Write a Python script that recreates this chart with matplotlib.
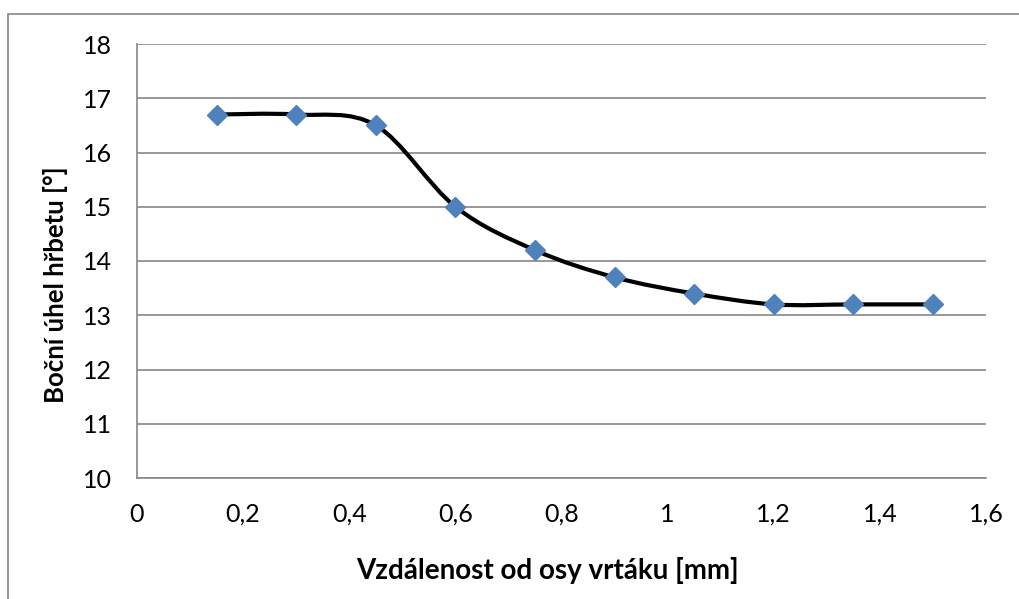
import numpy as np
import matplotlib

matplotlib.use("Agg")
import matplotlib.pyplot as plt
from matplotlib.path import Path
from matplotlib.patches import PathPatch, Rectangle

distance_mm = [0.15, 0.30, 0.45, 0.60, 0.75, 0.90, 1.05, 1.20, 1.35, 1.50]
side_angle = [16.7, 16.7, 16.5, 15.0, 14.2, 13.7, 13.4, 13.2, 13.2, 13.2]

x_ticks = [0, 0.2, 0.4, 0.6, 0.8, 1.0, 1.2, 1.4, 1.6]
y_ticks = [10, 11, 12, 13, 14, 15, 16, 17, 18]

plt.rcParams["font.family"] = ["Lato", "DejaVu Sans"]

W, H = 1020, 599


def smooth_path(xs, ys, tension=1 / 6):
    # cubic Bezier segments through every point (spreadsheet-style smoothed line)
    pts = np.column_stack([xs, ys]).astype(float)
    n = len(pts)
    verts = [pts[0]]
    codes = [Path.MOVETO]
    for i in range(n - 1):
        p0 = pts[max(i - 1, 0)]
        p1 = pts[i]
        p2 = pts[i + 1]
        p3 = pts[min(i + 2, n - 1)]
        c1 = p1 + (p2 - p0) * tension
        c2 = p2 - (p3 - p1) * tension
        verts += [c1, c2, p2]
        codes += [Path.CURVE4] * 3
    return Path(verts, codes)


fig = plt.figure(figsize=(W / 100, H / 100), dpi=100)
ax = fig.add_axes([137 / W, 1 - 478 / H, (986 - 137) / W, (478 - 44) / H])

# outer chart frame
fig.patches.append(
    Rectangle((8 / W, -0.05), 1.1, 1 - 14 / H + 0.05, transform=fig.transFigure,
              fill=False, edgecolor="#868686", linewidth=1.2)
)

ax.add_patch(PathPatch(smooth_path(distance_mm, side_angle), fill=False,
                       edgecolor="black", linewidth=3, capstyle="round", zorder=3))
ax.plot(distance_mm, side_angle, linestyle="none", marker="D", markersize=10,
        color="#4F81BD", zorder=4)

ax.set_xlim(0, 1.6)
ax.set_ylim(10, 18)
ax.set_xticks(x_ticks)
ax.set_yticks(y_ticks)
ax.set_xticklabels([f"{v:g}".replace(".", ",") for v in x_ticks])
ax.set_yticklabels([str(v) for v in y_ticks])
ax.tick_params(length=0, labelsize=18)
ax.tick_params(axis="x", pad=18)
ax.tick_params(axis="y", pad=18)

ax.yaxis.grid(True, color="#868686", linewidth=1.2)
ax.set_axisbelow(True)
for side in ("top", "right"):
    ax.spines[side].set_visible(False)
for side in ("left", "bottom"):
    ax.spines[side].set_color("#868686")
    ax.spines[side].set_linewidth(1.2)

# axis titles placed on the figure
fig.text(547 / W, 1 - 570 / H, "Vzdálenost od osy vrtáku [mm]", fontsize=20,
         fontweight="bold", ha="center", va="center")
fig.text(55 / W, 1 - 285 / H, "Boční úhel hřbetu [°]", fontsize=18.5,
         fontweight="bold", ha="center", va="center", rotation=90)

fig.savefig("out.png", dpi=100)
